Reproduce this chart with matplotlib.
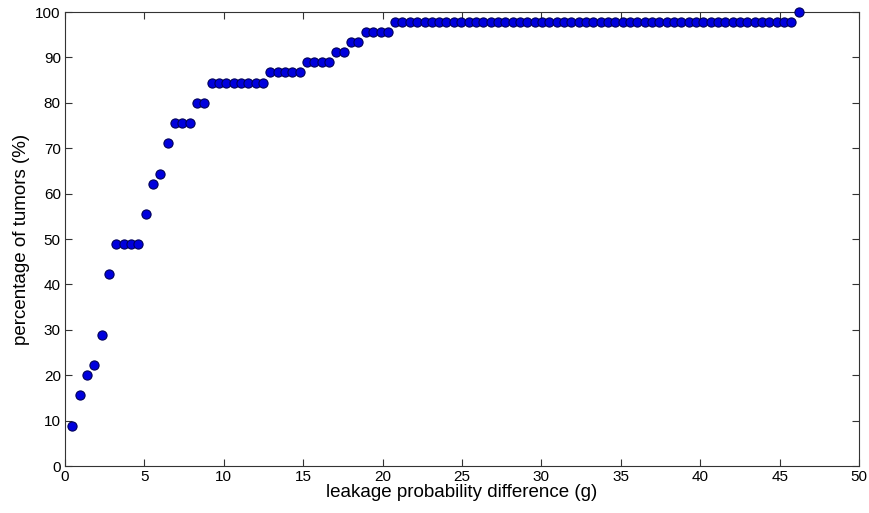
import numpy as np
import matplotlib.pyplot as plt

plt.rcParams["font.family"] = ["Liberation Sans", "DejaVu Sans"]

# leakage probability difference thresholds (g)
g_values = [
    0.46, 0.92, 1.39, 1.85, 2.31, 2.77, 3.23, 3.70, 4.16, 4.62,
    5.08, 5.54, 6.01, 6.47, 6.93, 7.39, 7.85, 8.32, 8.78, 9.24,
    9.70, 10.16, 10.63, 11.09, 11.55, 12.01, 12.47, 12.94, 13.40, 13.86,
    14.32, 14.78, 15.25, 15.71, 16.17, 16.63, 17.09, 17.56, 18.02, 18.48,
    18.94, 19.40, 19.87, 20.33, 20.79, 21.25, 21.71, 22.18, 22.64, 23.10,
    23.56, 24.02, 24.49, 24.95, 25.41, 25.87, 26.33, 26.80, 27.26, 27.72,
    28.18, 28.64, 29.11, 29.57, 30.03, 30.49, 30.95, 31.42, 31.88, 32.34,
    32.80, 33.26, 33.73, 34.19, 34.65, 35.11, 35.57, 36.04, 36.50, 36.96,
    37.42, 37.88, 38.35, 38.81, 39.27, 39.73, 40.19, 40.66, 41.12, 41.58,
    42.04, 42.50, 42.97, 43.43, 43.89, 44.35, 44.81, 45.28, 45.74, 46.20,
]

# cumulative percentage of tumors
pct_tumors = [
    8.9, 15.6, 20.0, 22.2, 28.9, 42.2, 48.9, 48.9, 48.9, 48.9,
    55.6, 62.2, 64.4, 71.1, 75.6, 75.6, 75.6, 80.0, 80.0, 84.4,
    84.4, 84.4, 84.4, 84.4, 84.4, 84.4, 84.4, 86.7, 86.7, 86.7,
    86.7, 86.7, 88.9, 88.9, 88.9, 88.9, 91.1, 91.1, 93.3, 93.3,
    95.6, 95.6, 95.6, 95.6, 97.8, 97.8, 97.8, 97.8, 97.8, 97.8,
    97.8, 97.8, 97.8, 97.8, 97.8, 97.8, 97.8, 97.8, 97.8, 97.8,
    97.8, 97.8, 97.8, 97.8, 97.8, 97.8, 97.8, 97.8, 97.8, 97.8,
    97.8, 97.8, 97.8, 97.8, 97.8, 97.8, 97.8, 97.8, 97.8, 97.8,
    97.8, 97.8, 97.8, 97.8, 97.8, 97.8, 97.8, 97.8, 97.8, 97.8,
    97.8, 97.8, 97.8, 97.8, 97.8, 97.8, 97.8, 97.8, 97.8, 100.0,
]

fig = plt.figure(figsize=(8.7, 5.13), dpi=100)
ax = fig.add_axes([0.0747, 0.0916, 0.9127, 0.885])

ax.plot(g_values, pct_tumors, linestyle="none", marker="o", markersize=6.6,
        markerfacecolor="#0000dd", markeredgecolor="#00005a",
        markeredgewidth=0.8, clip_on=False, zorder=3)

ax.set_xlim(0, 50)
ax.set_ylim(0, 100)
ax.set_xticks(np.arange(0, 51, 5))
ax.set_yticks(np.arange(0, 101, 10))

for side in ax.spines.values():
    side.set_color("#333333")
    side.set_linewidth(0.8)
ax.tick_params(direction="in", length=5, width=0.8, color="#333333",
               top=True, right=True, labelsize=11, pad=3)

ax.set_xlabel("leakage probability difference (g)", fontsize=13.5, labelpad=0)
ax.set_ylabel("percentage of tumors (%)", fontsize=13.5, labelpad=4)

fig.savefig("out.png", dpi=100)
